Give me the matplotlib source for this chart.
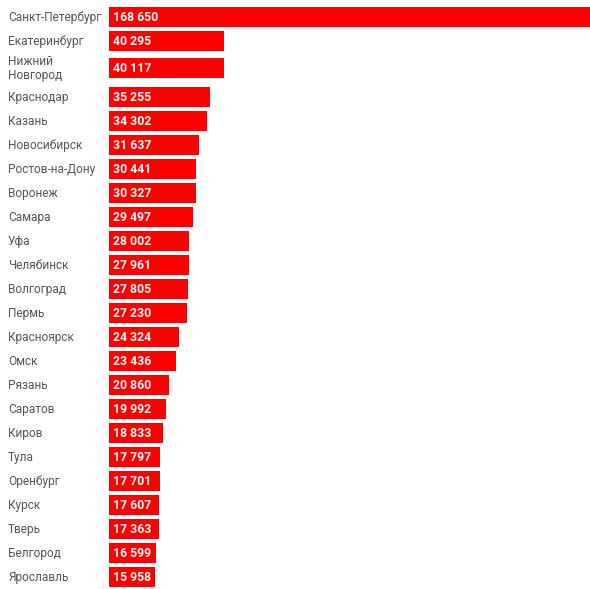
import matplotlib
matplotlib.use("Agg")
import matplotlib.pyplot as plt

cities = ["Санкт-Петербург", "Екатеринбург", "Нижний\nНовгород", "Краснодар", "Казань",
          "Новосибирск", "Ростов-на-Дону", "Воронеж", "Самара", "Уфа", "Челябинск",
          "Волгоград", "Пермь", "Красноярск", "Омск", "Рязань", "Саратов", "Киров",
          "Тула", "Оренбург", "Курск", "Тверь", "Белгород", "Ярославль"]
values = [168650, 40295, 40117, 35255, 34302, 31637, 30441, 30327, 29497, 28002, 27961,
          27805, 27230, 24324, 23436, 20860, 19992, 18833, 17797, 17701, 17607, 17363,
          16599, 15958]

plt.rcParams['font.family'] = ['Roboto', 'DejaVu Sans']

W, H = 590, 589
fig = plt.figure(figsize=(W / 100, H / 100), dpi=100)
left = 109
scale = 482  # pixels for the largest bar (it runs past the right edge slightly)
ax = fig.add_axes([left / W, 0, 1 - left / W, 1])
ax.set_xlim(0, max(values) * (W - left) / scale)
ax.set_ylim(H, 0)
ax.axis('off')

# row centres in pixels; the two-line label gets a taller row
centres = []
y = 17
for i, c in enumerate(cities):
    centres.append(y)
    if i == 1:
        y += 27
    elif i == 2:
        y += 29
    else:
        y += 24

ax.barh(centres, values, height=20, color='#ff0000', align='center')

px = max(values) / scale
for c, v, yc in zip(cities, values, centres):
    ax.text(4 * px, yc + 0.5, f"{v:,}".replace(",", " "), color='white', fontsize=8.8,
            fontweight='bold', va='center', ha='left')
    fig.text(8 / W, 1 - (yc + 0.5) / H, c, color='#555555', fontsize=8.6, va='center',
             ha='left', linespacing=1.05)

fig.savefig("out.png", dpi=100)
